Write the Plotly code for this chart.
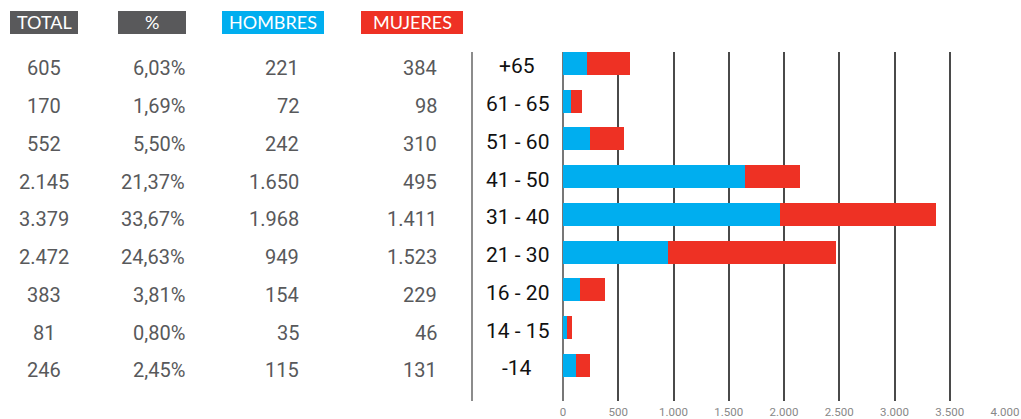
import plotly.graph_objects as go

# ---- data ----
ages = ["+65", "61 - 65", "51 - 60", "41 - 50", "31 - 40", "21 - 30", "16 - 20", "14 - 15", "-14"]
total = [605, 170, 552, 2145, 3379, 2472, 383, 81, 246]
pct = ["6,03%", "1,69%", "5,50%", "21,37%", "33,67%", "24,63%", "3,81%", "0,80%", "2,45%"]
hombres = [221, 72, 242, 1650, 1968, 949, 154, 35, 115]
mujeres = [384, 98, 310, 495, 1411, 1523, 229, 46, 131]
headers = ["TOTAL", "%", "HOMBRES", "MUJERES"]
x_ticks = [0, 500, 1000, 1500, 2000, 2500, 3000, 3500, 4000]

W, H = 1021, 419
BLUE = "#00AEEF"
RED = "#EE3124"
GREY_BOX = "#59595B"


def px(x):
    return x / W


def py(y):
    return 1 - y / H


def fmt(n):
    return f"{n:,}".replace(",", ".")


cat_order = ages[::-1]  # bottom -> top

fig = go.Figure()
fig.add_trace(go.Bar(y=ages, x=hombres, orientation="h", marker=dict(color=BLUE, line=dict(width=0)),
                     name="HOMBRES", showlegend=False))
fig.add_trace(go.Bar(y=ages, x=mujeres, orientation="h", marker=dict(color=RED, line=dict(width=0)),
                     name="MUJERES", showlegend=False))

annotations = []
num_font = dict(family="Roboto", size=20, color="#58595B")
for i, a in enumerate(ages):
    yi = cat_order.index(a)
    common = dict(yref="y", y=yi, xref="paper", showarrow=False, yanchor="middle", yshift=-5)
    annotations.append(dict(text=fmt(total[i]), x=px(44), xanchor="center", font=num_font, **common))
    annotations.append(dict(text=pct[i], x=px(187), xanchor="right", font=num_font, **common))
    annotations.append(dict(text=fmt(hombres[i]), x=px(301), xanchor="right", font=num_font, **common))
    annotations.append(dict(text=fmt(mujeres[i]), x=px(439), xanchor="right", font=num_font, **common))
    annotations.append(dict(text=a, xref="paper", x=px(517), xanchor="center",
                            font=dict(family="Roboto", size=21, color="#111111"),
                            yref="y", y=yi, showarrow=False, yanchor="middle", yshift=-3))

shapes = []
boxes = [(10, 78, GREY_BOX), (118, 186, GREY_BOX), (222, 324, BLUE), (361, 463, RED)]
for (x0, x1, col), h in zip(boxes, headers):
    shapes.append(dict(type="rect", xref="paper", yref="paper", x0=px(x0), x1=px(x1), y0=py(34), y1=py(11),
                       fillcolor=col, line=dict(width=0), layer="below"))
    annotations.append(dict(text=h, xref="paper", yref="paper", x=px((x0 + x1) / 2), y=py(22.5),
                            xanchor="center", yanchor="middle", showarrow=False,
                            font=dict(family="Lato", size=18, color="white")))

shapes.append(dict(type="line", xref="paper", yref="paper", x0=px(472), x1=px(472), y0=py(401), y1=py(52),
                   line=dict(color="#666666", width=1.5)))

fig.update_layout(
    template="none",
    width=W, height=H,
    margin=dict(l=0, r=0, t=0, b=0, pad=0),
    paper_bgcolor="white", plot_bgcolor="white",
    barmode="stack", bargap=0.39,
    separators=",.",
    showlegend=False,
    annotations=annotations,
    shapes=shapes,
    xaxis=dict(domain=[px(563), px(1005)], range=[0, 4000], tickvals=x_ticks, automargin=False,
               ticktext=[fmt(v) for v in x_ticks], showgrid=True, gridcolor="#4a4a4a", gridwidth=1.5,
               zeroline=True, zerolinecolor="#777777", zerolinewidth=1.5, showline=False, ticks="",
               ticklabelstandoff=2,
               tickfont=dict(family="Roboto", size=11.5, color="#888888"), fixedrange=True),
    yaxis=dict(domain=[py(401), py(52)], type="category", categoryorder="array", automargin=False,
               categoryarray=cat_order, range=[-0.946, 8.3], showticklabels=False,
               showgrid=False, zeroline=False, showline=False, ticks="", fixedrange=True),
)

page_js = """
document.documentElement.style.margin='0px';
document.body.style.margin='0px';
document.documentElement.style.overflow='hidden';
document.body.style.overflow='hidden';
"""
fig.write_html("out.html", config=dict(displayModeBar=False), post_script=page_js)
